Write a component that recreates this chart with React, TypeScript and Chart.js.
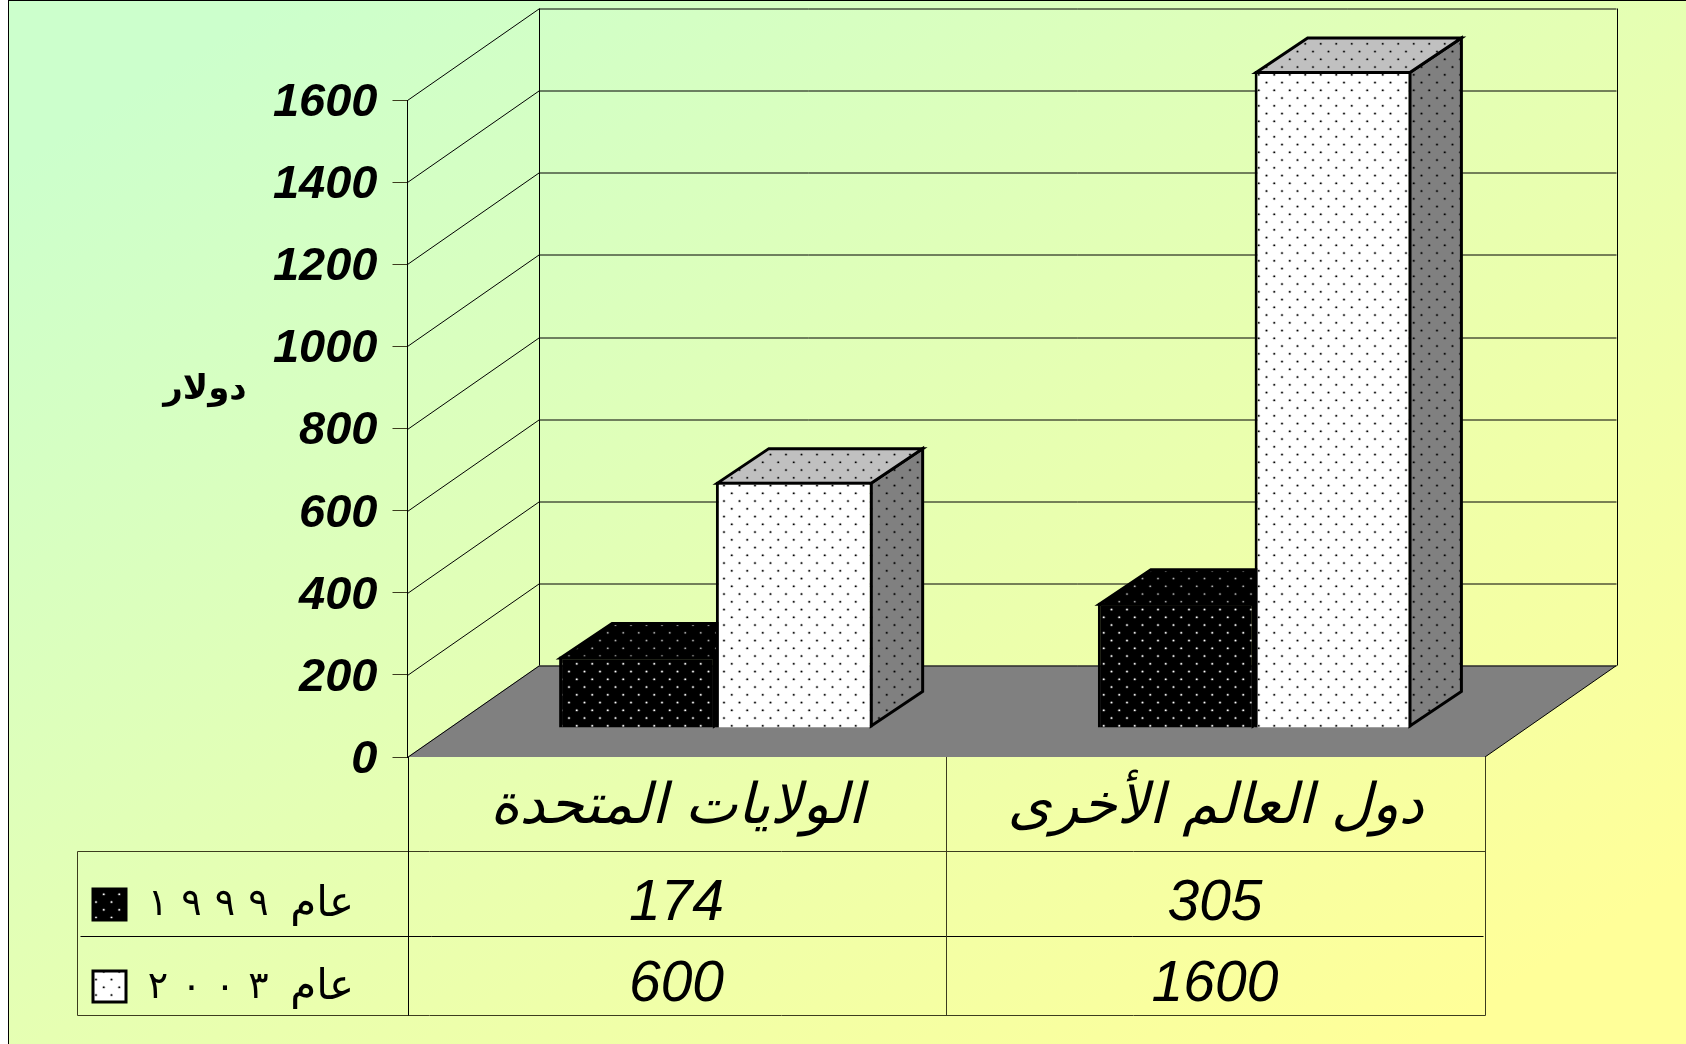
import React, { useEffect, useRef } from "react";
import { Chart, registerables } from "chart.js";

Chart.register(...registerables);

const categories = ["الولايات المتحدة", "دول العالم الأخرى"];
const series1999 = [174, 305];
const series2003 = [600, 1600];
const legendWord = "عام";
const legendYears = ["١٩٩٩", "٢٠٠٣"];
const yTitle = "دولار";
const yMax = 1600;
const yStep = 200;

const LATIN = '"Liberation Sans"';
const ARABIC = '"DejaVu Sans"';

// 3D projection of the chart's depth
const WALL_DX = 131.5;
const WALL_DY = 91.5;
const BAR_DX = 39;
const BAR_DY = 29;
const SIDE_DX = 51.5;
const SIDE_DY = 34.5;

function makePattern(bg: string, dot: string, halo: string) {
  const c = document.createElement("canvas");
  c.width = 31;
  c.height = 31;
  const g = c.getContext("2d")!;
  g.fillStyle = bg;
  g.fillRect(0, 0, 31, 31);
  const p = 15.5;
  const put = (x: number, y: number) => {
    g.fillStyle = halo;
    g.beginPath();
    g.arc(x, y, 1.6, 0, Math.PI * 2);
    g.fill();
    g.fillStyle = dot;
    g.beginPath();
    g.arc(x, y, 0.85, 0, Math.PI * 2);
    g.fill();
  };
  for (let i = 0; i < 2; i++) {
    for (let j = 0; j < 2; j++) {
      put(3 + i * p, 3 + j * p);
      put(3 + p / 2 + i * p, 3 + p / 2 + j * p);
    }
  }
  return g.createPattern(c, "repeat")!;
}

export default function App() {
  const ref = useRef<HTMLCanvasElement>(null);

  useEffect(() => {
    const canvas = ref.current!;
    const ctx = canvas.getContext("2d")!;
    const pWhite = makePattern("#ffffff", "#000000", "rgba(0,0,0,0.25)");
    const pBlack = makePattern("#000000", "#ffffff", "rgba(255,255,255,0.25)");
    const pGreyTop = makePattern("#c0c0c0", "#000000", "rgba(0,0,0,0.2)");
    const pGreySide = makePattern("#808080", "#000000", "rgba(0,0,0,0.25)");
    const pBlackTop = makePattern("#000000", "#b0b0b0", "rgba(255,255,255,0.12)");

    const line = (g: CanvasRenderingContext2D, pts: number[][], w = 1, color = "#000") => {
      g.strokeStyle = color;
      g.lineWidth = w;
      g.beginPath();
      pts.forEach((p, i) => (i ? g.lineTo(p[0], p[1]) : g.moveTo(p[0], p[1])));
      g.stroke();
    };
    const poly = (g: CanvasRenderingContext2D, pts: number[][], fill: any, w = 0) => {
      g.fillStyle = fill;
      g.beginPath();
      pts.forEach((p, i) => (i ? g.lineTo(p[0], p[1]) : g.moveTo(p[0], p[1])));
      g.closePath();
      g.fill();
      if (w) {
        g.strokeStyle = "#000";
        g.lineWidth = w;
        g.lineJoin = "miter";
        g.stroke();
      }
    };

    const scenePlugin = {
      id: "scene",
      // Walls, floor and the table under the chart
      beforeDraw(chart: any) {
        const g: CanvasRenderingContext2D = chart.ctx;
        const { left, right, top, bottom } = chart.chartArea;
        const y = chart.scales.y;
        g.save();
        // floor
        poly(
          g,
          [
            [left, bottom],
            [left + WALL_DX, bottom - WALL_DY],
            [right + WALL_DX, bottom - WALL_DY],
            [right, bottom],
          ],
          "#808080"
        );
        // grid on the side and back walls
        y.ticks.forEach((t: any) => {
          const py = Math.round(y.getPixelForValue(t.value)) + 0.5;
          line(g, [
            [left, py],
            [left + WALL_DX, py - WALL_DY],
            [right + WALL_DX, py - WALL_DY],
          ]);
        });
        const bx = Math.round(left + WALL_DX) + 0.5;
        const rx = Math.round(right + WALL_DX) + 0.5;
        line(g, [
          [bx, top - WALL_DY],
          [bx, bottom - WALL_DY],
        ]);
        line(g, [
          [rx, top - WALL_DY],
          [rx, bottom - WALL_DY],
        ]);
        line(g, [
          [right + WALL_DX, bottom - WALL_DY],
          [right, bottom],
        ]);

        // table
        const xMid = (left + right) / 2;
        const tx = [77.5, Math.round(left) + 0.5, Math.round(xMid) + 0.5, Math.round(right) + 0.5];
        const r1 = 851.5;
        const r2 = 936.5;
        const r3 = 1015.5;
        line(g, [[tx[0], r1], [tx[3], r1]], 1, "#3c3c1e");
        line(g, [[tx[0] + 3, r2], [tx[3] - 2, r2]], 1);
        line(g, [[tx[0], r3], [tx[3], r3]], 1, "#3c3c1e");
        line(g, [[tx[0], r1], [tx[0], r3]], 1, "#3c3c1e");
        line(g, [[tx[1], bottom], [tx[1], r3]]);
        line(g, [[tx[2], bottom], [tx[2], r3]], 1, "#3c3c1e");
        line(g, [[tx[3], bottom], [tx[3], r3]], 1, "#3c3c1e");

        // legend keys and texts
        const rows = [
          { key: pBlack, yTop: 889, values: series1999, cy: 904, yr: legendYears[0], ty: 905 },
          { key: pWhite, yTop: 971, values: series2003, cy: 985, yr: legendYears[1], ty: 988 },
        ];
        rows.forEach((r) => {
          poly(
            g,
            [
              [93, r.yTop],
              [126, r.yTop],
              [126, r.yTop + 31],
              [93, r.yTop + 31],
            ],
            r.key,
            3
          );
          g.fillStyle = "#000";
          g.textBaseline = "middle";
          g.textAlign = "center";
          g.font = `38px ${ARABIC}`;
          Array.from(r.yr).forEach((ch, i) => {
            g.fillText(ch, 158 + 33.5 * i, r.ty);
          });
          g.textAlign = "right";
          g.font = `42px ${ARABIC}`;
          g.fillText(legendWord, 354, r.ty);
          g.textAlign = "center";
          g.font = `italic 57px ${LATIN}`;
          r.values.forEach((v, i) => {
            const cx = (tx[i + 1] + tx[i + 2]) / 2 - 1;
            g.fillText(String(v), cx, r.cy);
          });
        });

        // value axis title
        g.font = `bold 34px ${ARABIC}`;
        g.textAlign = "center";
        g.fillText(yTitle, 205, 390);
        g.restore();
      },
      // Bars with their depth, nearest drawn last
      beforeDatasetsDraw(chart: any) {
        const g: CanvasRenderingContext2D = chart.ctx;
        g.save();
        g.translate(BAR_DX, -BAR_DY);
        [0, 1].forEach((di) => {
          const meta = chart.getDatasetMeta(di);
          meta.data.forEach((el: any) => {
            const { x, y, base, width } = el.getProps(["x", "y", "base", "width"], true);
            const l = x - width / 2 + 1.5;
            const r = x + width / 2 - 1.5;
            const t = y + 1.5;
            const b = base - 1.5;
            const dark = di === 0;
            poly(
              g,
              [
                [r, t],
                [r + SIDE_DX, t - SIDE_DY],
                [r + SIDE_DX, b - SIDE_DY],
                [r, b],
              ],
              dark ? pBlackTop : pGreySide,
              3
            );
            poly(
              g,
              [
                [l, t],
                [r, t],
                [r + SIDE_DX, t - SIDE_DY],
                [l + SIDE_DX, t - SIDE_DY],
              ],
              dark ? pBlackTop : pGreyTop,
              3
            );
          });
          meta.controller.draw();
        });
        g.restore();
        return false;
      },
    };

    const chart = new Chart(ctx, {
      type: "bar",
      data: {
        labels: categories,
        datasets: [
          {
            label: `${legendWord} ${legendYears[0]}`,
            data: series1999,
            backgroundColor: pBlack,
            borderColor: "#000",
            borderWidth: 3,
          },
          {
            label: `${legendWord} ${legendYears[1]}`,
            data: series2003,
            backgroundColor: pWhite,
            borderColor: "#000",
            borderWidth: 3,
          },
        ],
      },
      options: {
        responsive: false,
        animation: false,
        devicePixelRatio: 1,
        layout: { autoPadding: false, padding: { top: 100, right: 201, left: 0, bottom: 0 } },
        datasets: { bar: { categoryPercentage: 0.582, barPercentage: 1 } },
        plugins: { legend: { display: false }, tooltip: { enabled: false }, title: { display: false } },
        scales: {
          x: {
            afterFit: (s: any) => {
              s.height = 287;
            },
            grid: { display: false },
            border: { display: false },
            ticks: {
              color: "#000",
              padding: 10,
              maxRotation: 0,
              autoSkip: false,
              font: { family: ARABIC, size: 56, style: "italic" },
            },
          },
          y: {
            min: 0,
            max: yMax,
            afterFit: (s: any) => {
              s.width = 407.5;
            },
            border: { display: true, color: "#000", width: 1 },
            grid: { drawOnChartArea: false, drawTicks: true, tickLength: 15, color: "#3c3c1e", lineWidth: 1 },
            ticks: {
              stepSize: yStep,
              color: "#000",
              padding: 15,
              labelOffset: 3,
              callback: (v: any) => String(v),
              font: { family: LATIN, size: 47, style: "italic", weight: "bold" },
            },
          },
        },
      } as any,
      plugins: [scenePlugin as any],
    });
    return () => chart.destroy();
  }, []);

  return (
    <div style={{ position: "absolute", left: 0, top: 0, width: 1686, height: 1044, background: "#fff", overflow: "hidden" }}>
      <div
        style={{
          position: "absolute",
          left: 8,
          top: 0,
          width: 1678,
          height: 1044,
          boxSizing: "border-box",
          borderLeft: "1px solid #000",
          borderTop: "1px solid #000",
          background: "linear-gradient(to bottom right, #ccffcc 8%, #ffff99 92%)",
        }}
      />
      <canvas ref={ref} width={1686} height={1044} style={{ position: "absolute", left: 0, top: 0, display: "block" }} />
    </div>
  );
}
